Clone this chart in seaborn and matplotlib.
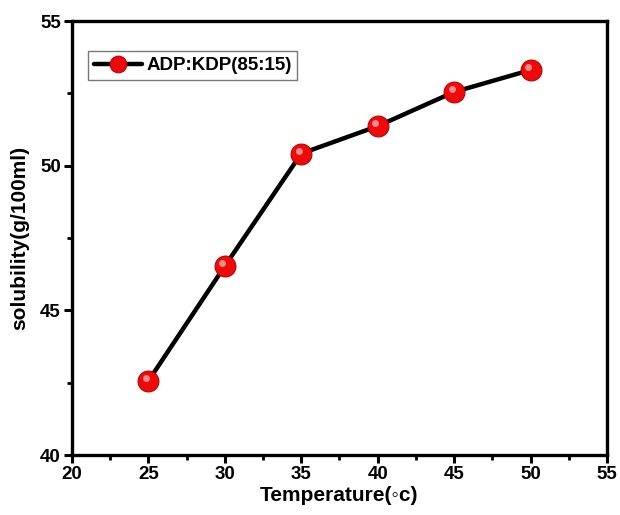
import matplotlib
matplotlib.use("Agg")
import matplotlib.pyplot as plt
import matplotlib.transforms as mtransforms
import seaborn as sns
import pandas as pd

temperature = [25, 30, 35, 40, 45, 50]
solubility = [42.56, 46.53, 50.42, 51.37, 52.55, 53.31]
series_label = "ADP:KDP(85:15)"
x_ticks = [20, 25, 30, 35, 40, 45, 50, 55]
y_ticks = [40, 45, 50, 55]

sns.set_theme(style="ticks")
plt.rcParams['font.family'] = ['Liberation Sans', 'DejaVu Sans']
plt.rcParams['font.weight'] = 'bold'
plt.rcParams['text.color'] = 'black'
plt.rcParams['axes.labelcolor'] = 'black'
plt.rcParams['xtick.color'] = 'black'
plt.rcParams['ytick.color'] = 'black'

df = pd.DataFrame({"Temperature": temperature, "Solubility": solubility})

fig = plt.figure(figsize=(6.2, 5.15), dpi=100)
ax = fig.add_axes([0.116, 0.1165, 0.863, 0.8425])

sns.lineplot(data=df, x="Temperature", y="Solubility", ax=ax, color="black",
             linewidth=3.2, marker="o", markersize=15, markerfacecolor="#ee0a0a",
             markeredgecolor="#c00000", markeredgewidth=0.8, label=series_label,
             zorder=3)
# highlight on the spheres
offset = mtransforms.ScaledTranslation(-2.5 / 100, 3 / 100, fig.dpi_scale_trans)
ax.plot(df["Temperature"], df["Solubility"], linestyle="none", marker="o",
        markersize=5, markerfacecolor="#ff9a9a", markeredgewidth=0, alpha=0.9,
        transform=ax.transData + offset, zorder=4)

ax.set_xlim(20, 55)
ax.set_ylim(40, 55)
ax.set_xticks(x_ticks)
ax.set_yticks(y_ticks)
ax.set_xticks([22.5, 27.5, 32.5, 37.5, 42.5, 47.5, 52.5], minor=True)
ax.set_yticks([42.5, 47.5, 52.5], minor=True)
ax.tick_params(which="major", direction="out", length=6, width=2.2, labelsize=13.5, pad=2,
               colors="black")
ax.tick_params(which="minor", direction="out", length=3.5, width=2.0, colors="black")
for lab in ax.get_xticklabels() + ax.get_yticklabels():
    lab.set_fontweight("bold")
for sp in ax.spines.values():
    sp.set_linewidth(2.4)
    sp.set_visible(True)
    sp.set_color("black")

ax.set_xlabel("Temperature(◦c)", fontsize=15, fontweight="bold", labelpad=2, color="black")
ax.set_ylabel("solubility(g/100ml)", fontsize=15, fontweight="bold", labelpad=8, color="black")

leg = ax.legend(loc="upper left", bbox_to_anchor=(0.03, 0.93), fancybox=False,
                frameon=True, edgecolor="#555555", fontsize=13.5, handlelength=2.6,
                borderpad=0.3, handletextpad=0.2, borderaxespad=0)
leg.get_frame().set_linewidth(1.0)
for t in leg.get_texts():
    t.set_fontweight("bold")
    t.set_color("black")
for h in leg.legend_handles:
    try:
        h.set_markersize(12)
    except AttributeError:
        pass

fig.savefig("out.png", dpi=100)
